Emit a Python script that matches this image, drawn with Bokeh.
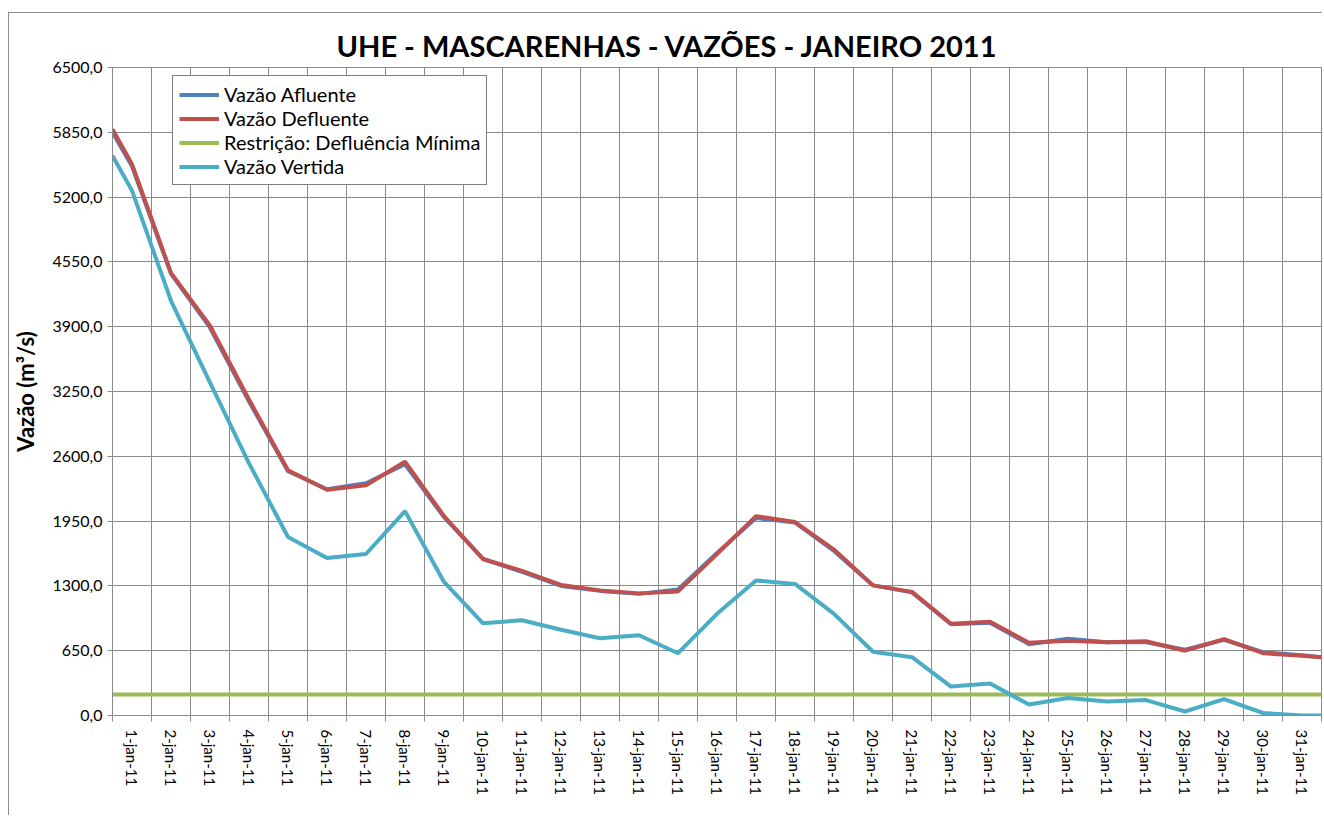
import math
from bokeh.plotting import figure
from bokeh.models import FixedTicker, Legend, LegendItem
from bokeh.embed import file_html
from bokeh.resources import INLINE

# ---------------- data ----------------
day_labels = ["1-jan-11", "2-jan-11", "3-jan-11", "4-jan-11", "5-jan-11", "6-jan-11",
              "7-jan-11", "8-jan-11", "9-jan-11", "10-jan-11", "11-jan-11", "12-jan-11",
              "13-jan-11", "14-jan-11", "15-jan-11", "16-jan-11", "17-jan-11", "18-jan-11",
              "19-jan-11", "20-jan-11", "21-jan-11", "22-jan-11", "23-jan-11", "24-jan-11",
              "25-jan-11", "26-jan-11", "27-jan-11", "28-jan-11", "29-jan-11", "30-jan-11",
              "31-jan-11"]

# values: [start edge] + 31 days + [end edge]
vazao_afluente = [5850, 5510, 4430, 3890, 3150, 2450, 2270, 2330, 2520, 1990, 1570, 1440,
                  1300, 1250, 1220, 1265, 1630, 1980, 1935, 1650, 1305, 1235, 915, 930,
                  715, 770, 735, 735, 660, 760, 635, 605, 585]
vazao_defluente = [5880, 5530, 4440, 3910, 3170, 2460, 2265, 2310, 2545, 2000, 1570, 1450,
                   1310, 1255, 1225, 1245, 1620, 2000, 1940, 1665, 1305, 1240, 920, 940,
                   730, 750, 735, 745, 650, 765, 625, 600, 585]
vazao_vertida = [5615, 5265, 4160, 3340, 2530, 1790, 1580, 1620, 2050, 1340, 925, 955,
                 860, 775, 805, 625, 1020, 1355, 1320, 1020, 640, 585, 290, 320,
                 110, 175, 140, 155, 40, 165, 25, 0, 0]
defluencia_minima = 210

y_ticks = [0, 650, 1300, 1950, 2600, 3250, 3900, 4550, 5200, 5850, 6500]
y_tick_labels = ["0,0", "650,0", "1300,0", "1950,0", "2600,0", "3250,0", "3900,0",
                 "4550,0", "5200,0", "5850,0", "6500,0"]

# ---------------- positions derived from categories ----------------
n_days = len(day_labels)
centers = [i + 0.5 for i in range(n_days)]
bounds = [float(i) for i in range(n_days + 1)]
xs = [0.0] + centers + [float(n_days)]

FONT = "Lato"
GRID = "#8a8a8a"

p = figure(width=1314, height=803, x_range=(0, n_days), y_range=(0, 6500),
           output_backend="svg", toolbar_location=None,
           min_border_left=103, min_border_right=2, min_border_top=54, min_border_bottom=101)
p.margin = (12, 0, 0, 8)
p.styles = {"border-left": "1px solid #8c8c8c", "border-top": "1px solid #8c8c8c"}

p.title.text = "UHE - MASCARENHAS - VAZÕES -  JANEIRO 2011"
p.title.text_font = FONT
p.title.text_font_size = "29px"
p.title.text_font_style = "bold"
p.title.text_color = "black"
p.title.align = "left"
p.title.vertical_align = "top"
p.title.offset = 224
p.title.standoff = 6

p.outline_line_color = GRID
p.outline_line_width = 1
p.background_fill_color = "white"
p.border_fill_color = "white"

# x axis
xa = p.xaxis[0]
xa.ticker = FixedTicker(ticks=centers, minor_ticks=bounds)
xa.major_label_overrides = {c: lab for c, lab in zip(centers, day_labels)}
xa.major_tick_out = 0
xa.major_tick_in = 0
xa.minor_tick_out = 6
xa.minor_tick_in = 0
xa.minor_tick_line_color = GRID
xa.axis_line_color = GRID
xa.major_label_orientation = -math.pi / 2
xa.major_label_standoff = 8
xa.major_label_text_font = FONT
xa.major_label_text_font_size = "15px"
xa.major_label_text_color = "black"

# y axis
ya = p.yaxis[0]
ya.ticker = FixedTicker(ticks=y_ticks)
ya.major_label_overrides = {t: lab for t, lab in zip(y_ticks, y_tick_labels)}
ya.major_tick_out = 5
ya.major_tick_in = 0
ya.minor_tick_out = 0
ya.minor_tick_in = 0
ya.major_tick_line_color = GRID
ya.axis_line_color = GRID
ya.major_label_standoff = 5
ya.major_label_text_font = FONT
ya.major_label_text_font_size = "16px"
ya.major_label_text_color = "black"
ya.axis_label = "Vazão (m³/s)"
ya.axis_label_text_font = FONT
ya.axis_label_text_font_size = "22px"
ya.axis_label_text_font_style = "bold"
ya.axis_label_text_color = "black"
ya.axis_label_standoff = 10

p.xgrid.ticker = FixedTicker(ticks=bounds)
p.xgrid.grid_line_color = GRID
p.ygrid.grid_line_color = GRID
p.xgrid.grid_line_width = 1
p.ygrid.grid_line_width = 1

lw = 4
r_af = p.line(xs, vazao_afluente, line_color="#4F81BD", line_width=lw)
r_de = p.line(xs, vazao_defluente, line_color="#C0504D", line_width=lw)
r_mi = p.line([xs[0], xs[-1]], [defluencia_minima, defluencia_minima], line_color="#9BBB59", line_width=lw)
r_ve = p.line(xs, vazao_vertida, line_color="#4BACC6", line_width=lw)

legend = Legend(items=[
    LegendItem(label="Vazão Afluente", renderers=[r_af]),
    LegendItem(label="Vazão Defluente", renderers=[r_de]),
    LegendItem(label="Restrição: Defluência Mínima", renderers=[r_mi]),
    LegendItem(label="Vazão Vertida", renderers=[r_ve]),
], location=(60, 530))
legend.border_line_color = "black"
legend.border_line_width = 1
legend.background_fill_color = "white"
legend.background_fill_alpha = 1
legend.padding = 6
legend.spacing = 0
legend.margin = 0
legend.label_height = 23
legend.glyph_height = 23
legend.glyph_width = 40
legend.label_standoff = 5
legend.label_text_font = FONT
legend.label_text_font_size = "20px"
legend.label_text_color = "black"
p.add_layout(legend, "center")

open("out.html", "w").write(file_html(p, INLINE))
